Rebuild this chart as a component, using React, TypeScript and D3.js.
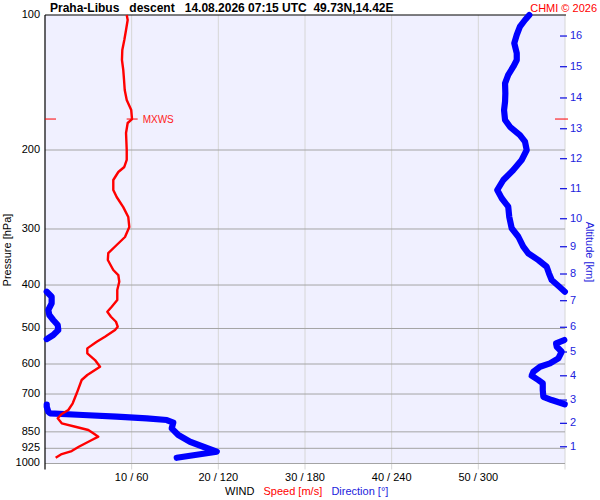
import React, { useEffect, useRef } from 'react';
import * as d3 from 'd3';

// pressure axis (hPa) and wind axis ticks
const pressureTicks = [100, 200, 300, 400, 500, 600, 700, 850, 925, 1000];
const windTicks = [10, 20, 30, 40, 50];

// altitude scale on the right: km and the pressure level it sits at
const altitudeKm = [1, 2, 3, 4, 5, 6, 7, 8, 9, 10, 11, 12, 13, 14, 15, 16];
const altitudePressure = [917.6, 813.7, 722, 637.4, 564.2, 496.9, 433.5, 378, 328.6, 284.6, 243.9, 209.1, 179.3, 153.1, 130.4, 111.4];

// wind speed profile [m/s]
const speedPressure = [
  100, 102.6, 108, 113.7, 119.7, 126, 132.6, 139.6, 147, 154.7, 162.9, 170.6, 174.1, 183.3, 200, 210.5,
  218.2, 223.9, 233.3, 245.6, 254.6, 268.1, 282.2, 297, 312.6, 325.7, 339.4, 351.8, 370.3, 380, 393.3,
  410.5, 432.1, 447.2, 458.8, 470.7, 483, 495.5, 503.9, 521.6, 535.2, 553.7, 568, 587.9, 608.4, 634.9,
  651.4, 697.4, 734.1, 759.8, 775.5, 792.9, 813.5, 827.9, 842, 856.5, 871.4, 886.4, 917.6, 938.1, 952.7, 971,
];
const speedValues = [
  9.43, 9.54, 9.35, 9.15, 8.92, 8.88, 9.03, 9.12, 9.2, 9.43, 9.95, 10.04, 9.54, 9.35, 9.43, 9.43,
  9.15, 8.46, 7.88, 7.88, 8.27, 9.03, 9.61, 9.73, 9.23, 8.27, 7.3, 7.25, 7.88, 8.46, 8.57,
  8.34, 8.34, 7.7, 7.19, 7.61, 8.19, 8.39, 8.08, 6.92, 5.97, 4.88, 4.88, 5.77, 6.35, 4.88,
  4.23, 3.66, 3.2, 2.69, 1.93, 1.47, 1.93, 3.5, 5.0, 5.57, 6.15, 5.4, 3.9, 3.08, 1.93, 1.23,
];

// wind direction profile [deg]
const dirPressure = [
  100, 102.6, 106.2, 110.8, 115.6, 121.7, 126, 130.4, 136, 142, 149.5, 156.1, 162.9, 171.4, 177.5, 185.2,
  191.6, 200, 210.5, 221.6, 233.3, 245.6, 256.2, 267.6, 281.8, 298.9, 312.2, 328.6, 340, 351.8, 364.1,
  376.7, 389.9, 403.6, 414,
  414, 424.8, 439.4, 454.7, 466.6, 478.6, 491.1, 503.9, 517, 527.8,
  530.5, 539.7, 549.2, 563.4, 582.8, 597.9, 608.4, 624.2, 637.2, 651.4, 662.6, 685.8, 709.9, 722, 734.1, 737.9,
  739, 747.1, 766.6, 773, 779.7, 786.5, 792.9, 799.9, 810.9, 834.7, 864, 894.3, 917.6, 941.2, 971,
];
const dirValues = [
  335.3, 332.3, 328.8, 326.6, 324.9, 326.6, 326.6, 324.2, 320.7, 318.5, 318.7, 318.5, 317.8, 318.5, 321.9, 328.8,
  332.3, 333.5, 330, 324.2, 317.3, 313.1, 316.2, 320.7, 321.4, 323.1, 327.7, 331.1, 334.6, 341.5, 347.3,
  348.9, 350.8, 356.1, 359.9,
  1.2, 4.6, 4.6, 2.3, 3.0, 5.7, 8.8, 9.2, 5.7, 1.2,
  359.5, 353.8, 354.3, 357.7, 355.4, 349.6, 342.7, 338.1, 336.9, 341.5, 344.6, 344.6, 345, 350.8, 357.7, 359.8,
  1.2, 1.2, 2.3, 3.5, 26.3, 49.6, 70.4, 84.3, 88.8, 87.7, 92.3, 100.4, 109.6, 118.9, 91.2,
];

// maximum wind speed marker
const mxwsPressure = 170.6;
const mxwsSpeed = 10.0;

const FONT = '"Liberation Sans", Arial, sans-serif';

export default function App() {
  const svgRef = useRef<SVGSVGElement>(null);

  useEffect(() => {
    if (!svgRef.current) return;
    const svg = d3.select(svgRef.current);
    svg.selectAll('*').remove();

    const left = 45, right = 565, top = 15, bottom = 463.5;

    const y = d3.scaleLog().domain([100, 1000]).range([top, bottom]);
    const xSpeed = d3.scaleLinear().domain([0, 60]).range([left, right]);
    const xDir = d3.scaleLinear().domain([0, 360]).range([left, right]);

    svg.append('rect').attr('width', 600).attr('height', 500).attr('fill', '#fff');

    // plot background
    svg.append('rect')
      .attr('x', left).attr('y', top)
      .attr('width', right - left).attr('height', bottom - top)
      .attr('fill', '#f0f0ff');

    // vertical grid
    windTicks.forEach(t => {
      svg.append('line')
        .attr('x1', xSpeed(t)).attr('x2', xSpeed(t))
        .attr('y1', top).attr('y2', bottom + 6)
        .attr('stroke', '#d6d6d6').attr('stroke-width', 1);
      svg.append('text')
        .attr('x', xSpeed(t)).attr('y', 478)
        .attr('text-anchor', 'middle').attr('dominant-baseline', 'middle')
        .attr('font-family', FONT).attr('font-size', 11).attr('fill', '#000')
        .text(`${t} / ${t * 6}`);
    });
    svg.append('line')
      .attr('x1', right).attr('x2', right)
      .attr('y1', top).attr('y2', bottom + 6)
      .attr('stroke', '#d6d6d6').attr('stroke-width', 1);

    // pressure grid and labels
    pressureTicks.forEach(p => {
      if (p !== 100) {
        svg.append('line')
          .attr('x1', left).attr('x2', right)
          .attr('y1', y(p)).attr('y2', y(p))
          .attr('stroke', '#a4a4a4').attr('stroke-width', 1);
      }
      svg.append('text')
        .attr('x', 40).attr('y', y(p))
        .attr('text-anchor', 'end').attr('dominant-baseline', 'middle')
        .attr('font-family', FONT).attr('font-size', 11).attr('fill', '#000')
        .text(p);
    });

    // axes frame
    svg.append('line')
      .attr('x1', left).attr('x2', right + 1)
      .attr('y1', top).attr('y2', top)
      .attr('stroke', '#000').attr('stroke-width', 1.2);
    svg.append('line')
      .attr('x1', left).attr('x2', left)
      .attr('y1', top).attr('y2', bottom + 6)
      .attr('stroke', '#000').attr('stroke-width', 1.2);

    // altitude axis
    altitudeKm.forEach((km, i) => {
      const yy = y(altitudePressure[i]);
      svg.append('line')
        .attr('x1', right - 5).attr('x2', right + 2)
        .attr('y1', yy).attr('y2', yy)
        .attr('stroke', '#1a1ae0').attr('stroke-width', 1.3);
      svg.append('text')
        .attr('x', right + 5).attr('y', yy)
        .attr('dominant-baseline', 'middle')
        .attr('font-family', FONT).attr('font-size', 11).attr('fill', '#2222dd')
        .text(km);
    });

    // wind direction (split where it wraps around north)
    const segments: Array<Array<[number, number]>> = [];
    let cur: Array<[number, number]> = [];
    dirValues.forEach((d, i) => {
      if (cur.length && Math.abs(d - cur[cur.length - 1][1]) > 180) {
        segments.push(cur);
        cur = [];
      }
      cur.push([dirPressure[i], d]);
    });
    if (cur.length) segments.push(cur);

    const dirLine = d3.line<[number, number]>()
      .x(d => xDir(d[1]))
      .y(d => y(d[0]));

    segments.forEach(seg => {
      svg.append('path')
        .attr('d', dirLine(seg) as string)
        .attr('fill', 'none')
        .attr('stroke', '#0000ff')
        .attr('stroke-width', 6.2)
        .attr('stroke-linejoin', 'round')
        .attr('stroke-linecap', 'round');
    });

    // wind speed
    const speedLine = d3.line<number>()
      .x(i => xSpeed(speedValues[i]))
      .y(i => y(speedPressure[i]));
    svg.append('path')
      .attr('d', speedLine(d3.range(speedValues.length)) as string)
      .attr('fill', 'none')
      .attr('stroke', '#ff0000')
      .attr('stroke-width', 2.4)
      .attr('stroke-linejoin', 'round');

    // MXWS markers
    const ym = y(mxwsPressure);
    [[left, left + 11], [right - 10, right + 3], [xSpeed(mxwsSpeed) - 5, xSpeed(mxwsSpeed) + 6]].forEach(([a, b]) => {
      svg.append('line')
        .attr('x1', a).attr('x2', b)
        .attr('y1', ym).attr('y2', ym)
        .attr('stroke', '#ff0000').attr('stroke-width', 1);
    });
    svg.append('text')
      .attr('x', xSpeed(mxwsSpeed) + 11).attr('y', ym + 1)
      .attr('dominant-baseline', 'middle')
      .attr('font-family', FONT).attr('font-size', 10).attr('fill', '#ff2020')
      .text('MXWS');

    // titles
    svg.append('text')
      .attr('x', 50).attr('y', 12)
      .attr('font-family', FONT).attr('font-size', 12).attr('font-weight', 'bold')
      .attr('fill', '#000')
      .style('white-space', 'pre')
      .text('Praha-Libus   descent   14.08.2026 07:15 UTC  49.73N,14.42E');
    svg.append('text')
      .attr('x', 597).attr('y', 12)
      .attr('text-anchor', 'end')
      .attr('font-family', FONT).attr('font-size', 11).attr('fill', '#ff0000')
      .text('CHMI © 2026');

    // axis titles
    svg.append('text')
      .attr('transform', 'translate(11,250) rotate(-90)')
      .attr('text-anchor', 'middle')
      .attr('font-family', FONT).attr('font-size', 11).attr('fill', '#000')
      .text('Pressure [hPa]');
    svg.append('text')
      .attr('transform', 'translate(586,252) rotate(90)')
      .attr('text-anchor', 'middle')
      .attr('font-family', FONT).attr('font-size', 11).attr('fill', '#2222dd')
      .text('Altitude [km]');

    const bottomLabel = svg.append('text')
      .attr('x', 225).attr('y', 495)
      .attr('font-family', FONT).attr('font-size', 11)
      .style('white-space', 'pre');
    bottomLabel.append('tspan').attr('fill', '#000').text('WIND   ');
    bottomLabel.append('tspan').attr('fill', '#ff0000').text('Speed [m/s]   ');
    bottomLabel.append('tspan').attr('fill', '#2222dd').text('Direction [°]');
  }, []);

  return (
    <svg
      ref={svgRef}
      width={600}
      height={500}
      style={{ position: 'absolute', left: 0, top: 0, display: 'block' }}
    />
  );
}
